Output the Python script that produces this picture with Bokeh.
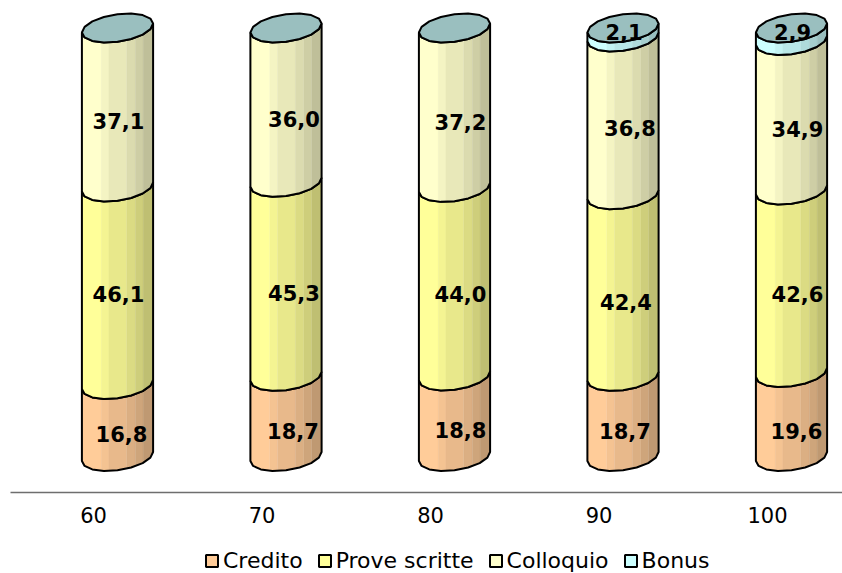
import numpy as np
from bokeh.plotting import figure, ColumnDataSource
from bokeh.layouts import column
from bokeh.embed import file_html
from bokeh.resources import INLINE
from bokeh.core.properties import value
from bokeh.models import FixedTicker, Legend, LegendItem

# --- data -------------------------------------------------------------
categories = ["60", "70", "80", "90", "100"]
series_names = ["Credito", "Prove scritte", "Colloquio", "Bonus"]
credito = [16.8, 18.7, 18.8, 18.7, 19.6]
prove = [46.1, 45.3, 44.0, 42.4, 42.6]
colloquio = [37.1, 36.0, 37.2, 36.8, 34.9]
bonus = [0.0, 0.0, 0.0, 2.1, 2.9]
series = [credito, prove, colloquio, bonus]

# --- style and placement ---------------------------------------------
colors = ["#FFCC99", "#FFFF99", "#FFFFCC", "#CCFFFF"]
top_color = "#9ABFBF"
band_edges = [0.0, 0.27, 0.38, 0.63, 0.75, 0.86, 1.0]
band_shade = [1.0, 0.96, 0.91, 0.86, 0.81, 0.75]
FONT = "DejaVu Sans"

PX_X = 168.5            # px per category
PX_Y = 4.285            # px per percent
DEPTH = 24 / PX_X       # cylinders sit right of the tick (3D depth)
HALF_W = 35.6 / PX_X
SLANT = 4.5 / PX_Y      # ellipse tilt
MINOR = 13.8 / PX_Y     # ellipse half height

# label offsets from the middle of each segment, in px (right, up)
label_dx = [[4, 7, 6, 2, 5], [1, 8, 6, 3, 6], [1, 8, 6, 7, 6], [0, 0, 0, 1, 1]]
label_dy = [[-13, -15, -14, -15, -16], [-8, -14, -12, -16, -13],
            [-14, -14, -14, -12, -14], [0, 0, 0, 0, 2]]

p = figure(frame_width=842, frame_height=492, output_backend="svg", toolbar_location=None,
           x_range=(-93 / PX_X, 749 / PX_X), y_range=(-36 / PX_Y, 456 / PX_Y),
           y_axis_location=None, min_border=0, min_border_bottom=49,
           outline_line_color=None, background_fill_color="white")
p.grid.visible = False

# polygonal ellipse: 16 sides
t = np.linspace(0, 2 * np.pi, 17)
ell_u = np.cos(t)
ell_v = MINOR * np.sin(t) + SLANT * np.cos(t)
front_t = np.linspace(np.pi, 2 * np.pi, 9)
front_u = np.cos(front_t)
front_v = MINOR * np.sin(front_t) + SLANT * np.cos(front_t)


def front(u):
    return np.interp(u, front_u, front_v)


def shade(col, k):
    r, g, b = (int(col[i:i + 2], 16) for i in (1, 3, 5))
    return "#%02x%02x%02x" % (int(r * k), int(g * k), int(b * k))


cx = np.arange(len(categories)) + DEPTH
levels = np.vstack([np.zeros(len(categories)), np.cumsum(series, axis=0)])

for s, name in enumerate(series_names):
    low, high = levels[s], levels[s + 1]
    xs, ys = [], []
    sx, sy, sc = [], [], []
    for i, c in enumerate(cx):
        if high[i] - low[i] <= 0:
            continue
        xs.append(list(c + front_u * HALF_W) + list(c + front_u[::-1] * HALF_W))
        ys.append(list(low[i] + front_v) + list(high[i] + front_v[::-1]))
        for b in range(len(band_shade)):
            a0, a1 = 2 * band_edges[b] - 1, 2 * band_edges[b + 1] - 1
            inner = front_u[(front_u > a0) & (front_u < a1)]
            u = np.concatenate([[a0], inner, [a1]])
            sx.append(list(c + u * HALF_W) + list(c + u[::-1] * HALF_W))
            sy.append(list(low[i] + front(u)) + list(high[i] + front(u[::-1])))
            sc.append(shade(colors[s], band_shade[b]))
    p.patches(xs="x", ys="y", fill_color="c", line_color="c", line_width=0.3,
              source=ColumnDataSource(dict(x=sx, y=sy, c=sc)))
    p.patches(xs, ys, fill_color=None, line_color="black", line_width=2)

# top face
p.patches([list(c + ell_u * HALF_W) for c in cx],
          [list(levels[-1][i] + ell_v) for i in range(len(cx))],
          fill_color=top_color, line_color="black", line_width=2)

# data labels
tx, ty, tt, dx, dy = [], [], [], [], []
for s, vals in enumerate(series):
    for i, v in enumerate(vals):
        if v <= 0:
            continue
        tx.append(cx[i])
        ty.append(levels[s][i] + v / 2)
        tt.append(f"{v:.1f}".replace(".", ","))
        dx.append(label_dx[s][i])
        dy.append(-label_dy[s][i])
p.text(x="x", y="y", text="t", x_offset="dx", y_offset="dy",
       source=ColumnDataSource(dict(x=tx, y=ty, t=tt, dx=dx, dy=dy)),
       text_font=value(FONT), text_font_style="bold", text_font_size=value("21px"),
       text_color="black", text_align="center", text_baseline="middle")

# axis
ax = p.xaxis[0]
ax.ticker = FixedTicker(ticks=list(range(len(categories))))
ax.major_label_overrides = {i: c for i, c in enumerate(categories)}
ax.bounds = (-83 / PX_X, 749 / PX_X)
ax.major_tick_line_color = None
ax.minor_tick_line_color = None
ax.axis_line_color = "#6e6e6e"
ax.axis_line_width = 1.5
ax.major_label_text_font = FONT
ax.major_label_text_font_size = "21px"
ax.major_label_text_color = "black"
ax.major_label_standoff = 8

# legend strip: a second figure directly below the chart
p2 = figure(frame_width=842, frame_height=32, output_backend="svg", toolbar_location=None,
            x_range=(0, 1), y_range=(0, 1), x_axis_location=None, y_axis_location=None,
            min_border=0, outline_line_color=None, background_fill_color="white")
p2.grid.visible = False
items = []
for s, name in enumerate(series_names):
    # swatch renderer kept out of view; only its legend glyph is seen
    r = p2.patches([[2, 3, 3]], [[2, 2, 3]], fill_color=colors[s], line_color="black", line_width=2)
    items.append(LegendItem(label=name, renderers=[r]))
legend = Legend(items=items, orientation="horizontal", location=(204, 0),
                label_text_font=FONT, label_text_font_size="22px", label_text_color="black",
                glyph_width=15, glyph_height=15, spacing=14, label_standoff=4,
                border_line_color=None, background_fill_color=None, padding=0, margin=0)
p2.add_layout(legend, "center")

open("out.html", "w").write(file_html(column(p, p2, spacing=0), INLINE))
